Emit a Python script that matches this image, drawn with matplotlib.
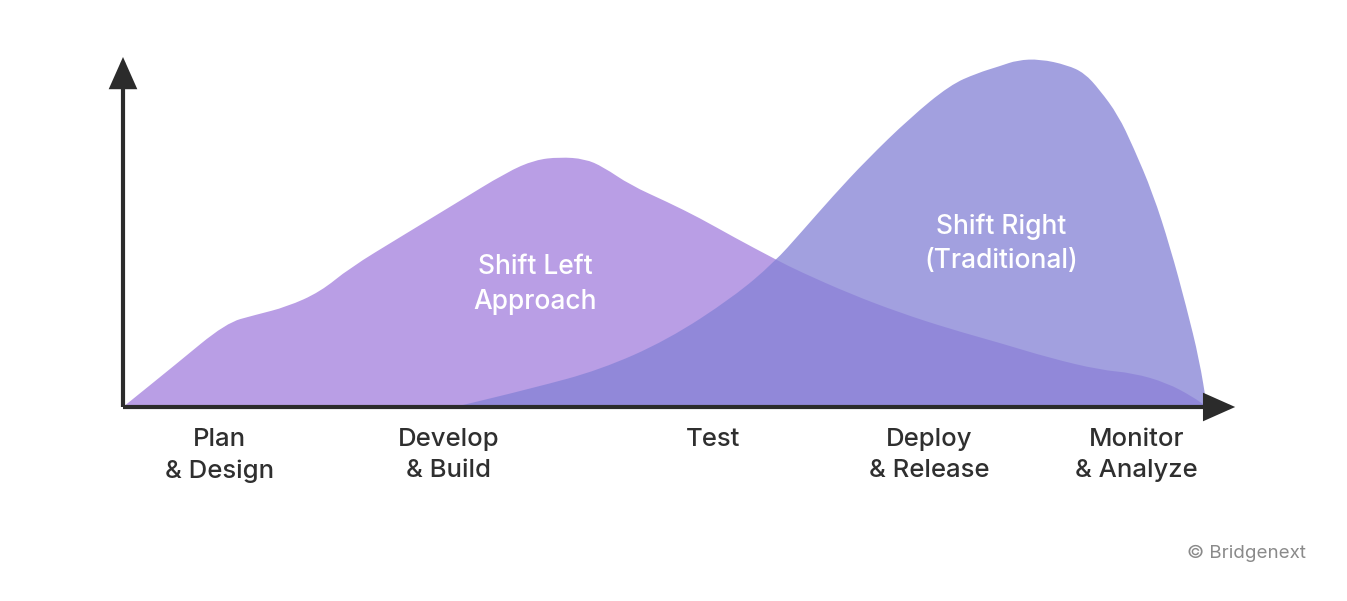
import matplotlib
matplotlib.use("Agg")
import matplotlib.pyplot as plt
from matplotlib.patches import FancyArrowPatch, PathPatch
from matplotlib.path import Path

plt.rcParams['font.family'] = ['Inter', 'DejaVu Sans']

# Stage labels along the timeline (x in % of timeline)
stages = ["Plan\n& Design", "Develop\n& Build", "Test", "Deploy\n& Release", "Monitor\n& Analyze"]
stage_x = [8.9, 30.0, 54.4, 74.4, 93.5]

# Shift Left approach curve (x: % timeline, y: relative effort)
left_x = [0, 4.8, 9.5, 12.2, 15.1, 18.2, 20.9, 25.6, 30.6, 35.4, 38.0, 40.3, 42.6, 44.3,
          46.8, 50.2, 53.2, 56.3, 60.3, 62.5, 67.1, 71.7, 76.3, 80.9, 85.5, 90.1, 93.2,
          96.3, 98.7, 100]
left_y = [0, 12, 24, 26.3, 28.6, 32.9, 39.7, 48.6, 58.0, 67.1, 70.6, 71.4, 70.9, 68.6,
          63.4, 58.6, 54.0, 48.6, 42.0, 38.6, 32.3, 26.9, 22.3, 18.3, 14.0, 10.6, 9.7,
          6.9, 2.9, 0]

# Shift Right (traditional) curve
right_x = [30.6, 37.8, 44.0, 50.2, 56.3, 60.1, 62.5, 65.5, 68.6, 72.6, 76.3, 78.8, 80.9,
           82.5, 84.6, 87.1, 88.7, 90.1, 91.8, 93.2, 95.0, 96.6, 98.1, 99.3, 100]
right_y = [0, 5.4, 10.6, 19.1, 31.4, 41.4, 49.7, 60.3, 70.6, 82.6, 92.0, 95.4, 97.4,
           99.1, 99.4, 97.7, 95.4, 90.6, 83.4, 74.3, 61.1, 45.7, 28.6, 13.4, 0]

left_label = "Shift Left\nApproach"
right_label = "Shift Right\n(Traditional)"


def smooth_area_path(xs, ys):
    """Closed area path; the outline is drawn with quadratic Bezier segments
    through the midpoints, using the read points as control points."""
    pts = list(zip(xs, ys))
    verts = [(xs[0], 0), pts[0]]
    codes = [Path.MOVETO, Path.LINETO]
    for i in range(1, len(pts) - 1):
        mx = (pts[i][0] + pts[i + 1][0]) / 2
        my = (pts[i][1] + pts[i + 1][1]) / 2
        if i == 1:
            m0 = ((pts[0][0] + pts[1][0]) / 2, (pts[0][1] + pts[1][1]) / 2)
            verts.append(m0)
            codes.append(Path.LINETO)
        verts += [pts[i], (mx, my)]
        codes += [Path.CURVE3, Path.CURVE3]
    verts += [pts[-1], (xs[-1], 0), (xs[0], 0)]
    codes += [Path.LINETO, Path.LINETO, Path.CLOSEPOLY]
    return Path(verts, codes)


fig = plt.figure(figsize=(13.47, 6.01), dpi=100)
ax = fig.add_axes([0, 0, 1, 1])
# x=0 -> px 123, x=100 -> px 1207 ; y=0 -> py 407, y=100 -> py 57
ax.set_xlim(-123 / 10.84, (1347 - 123) / 10.84)
ax.set_ylim(-(601 - 407) / 3.5, 407 / 3.5)
ax.axis('off')

ax.add_patch(PathPatch(smooth_area_path(left_x, left_y), facecolor='#B99EE5',
                       edgecolor='none', lw=0, zorder=1))
ax.add_patch(PathPatch(smooth_area_path(right_x, right_y), facecolor='#8582D6',
                       alpha=0.76, edgecolor='none', lw=0, zorder=2))

axis_color = '#2b2b2b'
for start, end in [((0, 0), (0, 100)), ((0, 0), (102.6, 0))]:
    arr = FancyArrowPatch(start, end, arrowstyle='-|>,head_length=0.9,head_width=0.4',
                          mutation_scale=20, lw=3, color=axis_color,
                          shrinkA=0, shrinkB=0, zorder=5, joinstyle='miter',
                          capstyle='butt')
    ax.add_patch(arr)

for lab, x in zip(stages, stage_x):
    ax.text(x, -6.1, lab, ha='center', va='top', fontsize=18.5, color='#2f2f2f',
            linespacing=1.45, fontweight='medium')

ax.text(38.0, 35.0, left_label, ha='center', va='center', fontsize=19,
        color='white', linespacing=1.42, fontweight='medium', zorder=6)
ax.text(81.0, 46.7, right_label, ha='center', va='center', fontsize=19,
        color='white', linespacing=1.42, fontweight='medium', zorder=6)

fig.text(1306 / 1347, 1 - 553 / 601, "© Bridgenext", ha='right', va='center',
         fontsize=13.5, color='#8a8a8a')

fig.savefig('out.png', dpi=100, facecolor='white')
